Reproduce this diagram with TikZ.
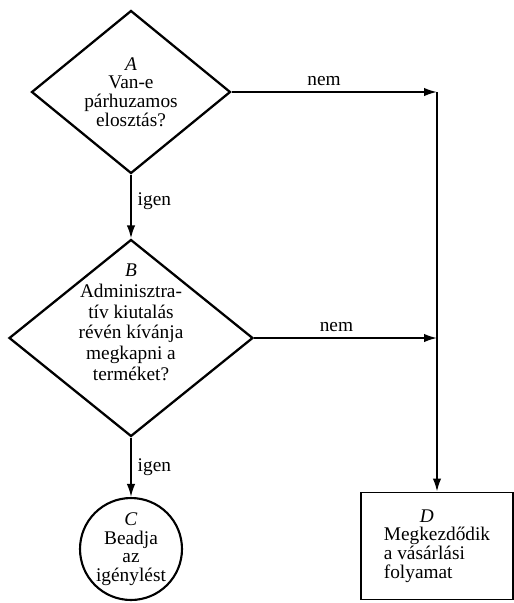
\documentclass[tikz,border=0pt]{standalone}
\usepackage{fontspec}
\setmainfont{Liberation Serif}
\usetikzlibrary{arrows.meta,shapes.geometric}

\begin{document}
\begin{tikzpicture}[x=0.02cm,y=-0.02cm,font=\fontsize{11}{10.6}\selectfont,
 dec/.style={draw,diamond,line width=1.3pt,align=center,inner sep=0pt},
 endbox/.style={draw,line width=1.1pt,align=left,minimum width=3.04cm,minimum height=2.14cm},
 endcirc/.style={draw,circle,line width=1.2pt,align=center,inner sep=0pt,minimum size=2.04cm},
 arr/.style={-{Latex[length=2.6mm,width=1.7mm]},line width=1pt}]
\useasboundingbox (0,0) rectangle (514,603);
\node[dec,shape aspect=1.22,minimum width=3.98cm,minimum height=3.26cm] (A) at (131,92) {\textit{A}\\Van-e\\párhuzamos\\elosztás?};
\node[dec,shape aspect=1.24,minimum width=4.88cm,minimum height=3.94cm,font=\fontsize{11}{11.8}\selectfont,
 text depth=18pt,inner ysep=-16pt,inner xsep=-3pt] (B) at (131,338) {\textit{B}\\Adminisztra-\\tív kiutalás\\révén kívánja\\megkapni a\\terméket?};
\node[endcirc] (C) at (131,549) {\textit{C}\\Beadja\\az\\igénylést};
\node[endbox] (D) at (437,546) {\hspace*{0.72cm}\textit{D}\\Megkezdődik\\a vásárlási\\folyamat};
\coordinate (top) at (A.east -| D.north);
\coordinate (mid) at (B.east -| D.north);
\draw[arr] (A.south) -- node[right,pos=0.42] {igen} (B.north);
\draw[arr] (B.south) -- node[right,pos=0.5] {igen} (C.north);
\draw[arr] (A.east) -- node[above,pos=0.45] {nem} (top);
\draw[arr] (B.east) -- node[above,pos=0.45] {nem} (mid);
\draw[arr] (top) -- (D.north);
\end{tikzpicture}
\end{document}
